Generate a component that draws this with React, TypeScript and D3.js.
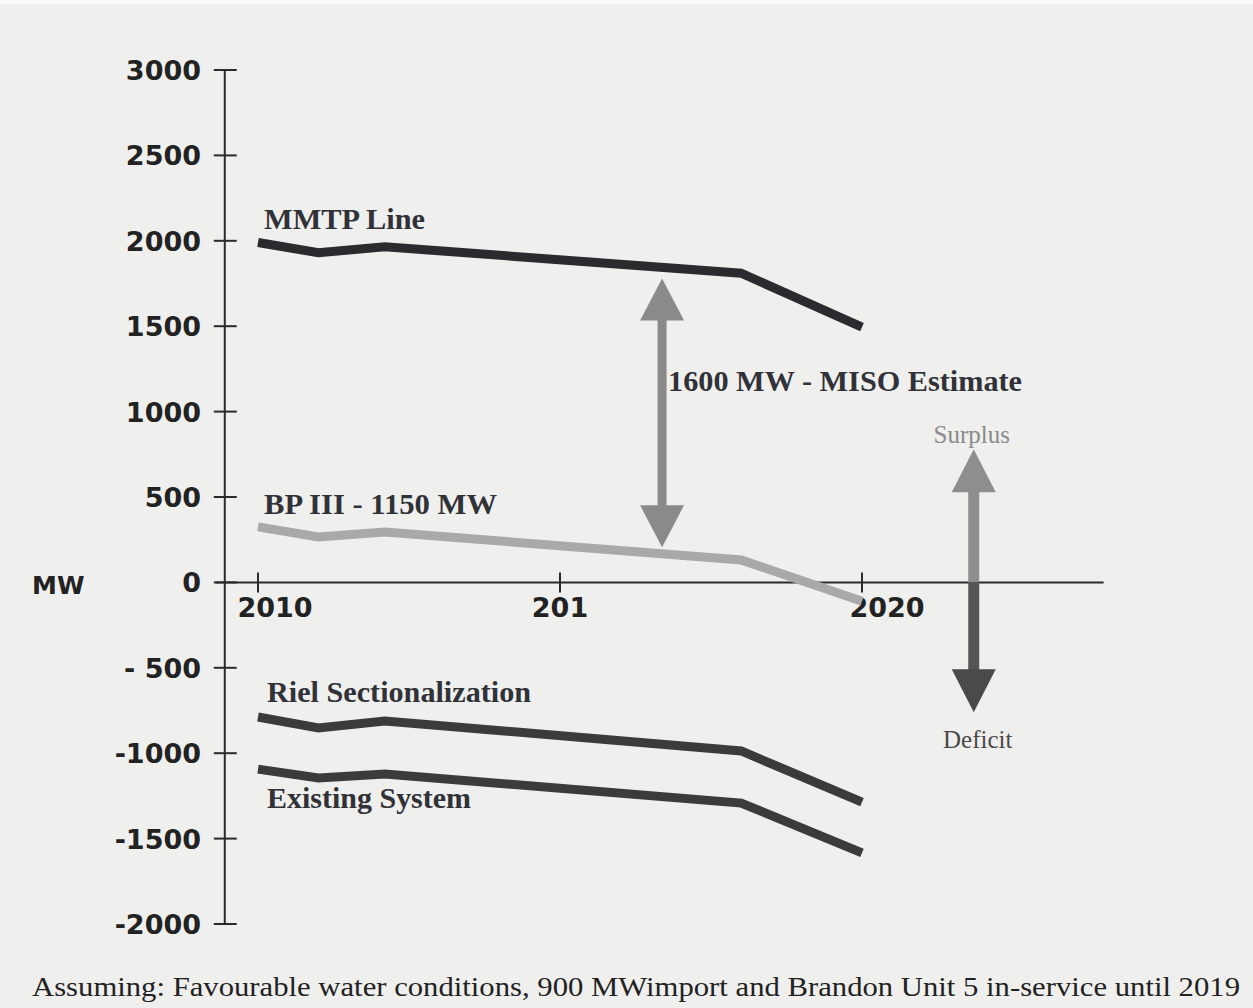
// MW surplus / deficit outlook, 2010–2020 — D3 scales, JSX drawing.
import * as d3 from "d3";

const WIDTH = 1253;
const HEIGHT = 1008;

const years = [2010, 2011, 2012.1, 2018, 2020];
const mmtpLine = [1990, 1930, 1965, 1810, 1495];
const bpIII = [325, 266, 295, 131, -110];
const rielSectionalization = [-788, -852, -811, -987, -1286];
const existingSystem = [-1093, -1145, -1122, -1292, -1584];

const yTicks = [3000, 2500, 2000, 1500, 1000, 500, 0, -500, -1000, -1500, -2000];
const yTickLabels = ["3000", "2500", "2000", "1500", "1000", "500", "0", "- 500", "-1000", "-1500", "-2000"];
const xTicks = [2010, 2015, 2020];
const xTickLabels = ["2010", "201", "2020"];

// range arrows: [year, from MW, to MW]
const misoArrow = [2016.69, 1780, 206];
const balanceArrow = [2021.85, 779, -760];

const FOOTNOTE =
  "Assuming: Favourable water conditions,  900 MWimport and Brandon Unit 5 in-service until 2019";

const x = d3.scaleLinear().domain([2010, 2020]).range([258, 862]);
const y = d3.scaleLinear().domain([-2000, 3000]).range([924, 70]);

const SERIF = "'Liberation Serif', 'Times New Roman', serif";
const SANS = "'DejaVu Sans', Arial, sans-serif";

const line = d3
  .line<number>()
  .x((_, i) => x(years[i]))
  .y((d) => y(d));

// triangular arrow head, dir = 1 points up (body below tip), -1 points down
function arrowHead(cx: number, tipY: number, dir: number, h = 43, hw = 22) {
  return `M${cx},${tipY} L${cx - hw},${tipY + dir * h} L${cx + hw},${tipY + dir * h} Z`;
}

export default function App() {
  const axisX = x(2009.45);
  const [mx, mTop, mBot] = misoArrow;
  const [bx, bTop, bBot] = balanceArrow;
  const mcx = x(mx);
  const bcx = x(bx);

  const series = [
    { values: bpIII, color: "#a9a9a9" },
    { values: mmtpLine, color: "#2b2a2e" },
    { values: rielSectionalization, color: "#3b3b3b" },
    { values: existingSystem, color: "#3b3b3b" },
  ];

  return (
    <svg
      width={WIDTH}
      height={HEIGHT}
      style={{ position: "absolute", left: 0, top: 0, display: "block", whiteSpace: "pre" }}
    >
      <rect width={WIDTH} height={HEIGHT} fill="#efefed" />
      <rect width={WIDTH} height={4} fill="#fafafa" />

      {/* axes */}
      <line x1={axisX} x2={axisX} y1={y(3000)} y2={y(-2000)} stroke="#2a2a2a" strokeWidth={2} />
      <line x1={x(2009.3)} x2={x(2024)} y1={y(0)} y2={y(0)} stroke="#2a2a2a" strokeWidth={2} />
      {yTicks.map((t, i) => (
        <g key={t}>
          <line x1={axisX - 11} x2={axisX + 12} y1={y(t)} y2={y(t)} stroke="#2a2a2a" strokeWidth={2} />
          <text
            x={201}
            y={y(t) + 10}
            textAnchor="end"
            fontFamily={SANS}
            fontWeight="bold"
            fontSize={27}
            fill="#222"
          >
            {yTickLabels[i]}
          </text>
        </g>
      ))}
      <text x={32} y={y(0) + 12} fontFamily={SANS} fontWeight="bold" fontSize={25} fill="#222">
        MW
      </text>
      {xTicks.map((t, i) => (
        <g key={t}>
          <line x1={x(t)} x2={x(t)} y1={y(0) - 10} y2={y(0) + 10} stroke="#2a2a2a" strokeWidth={2} />
          <text
            x={x(t) + [17, 0, 25][i]}
            y={y(0) + 35}
            textAnchor="middle"
            fontFamily={SANS}
            fontWeight="bold"
            fontSize={27}
            fill="#222"
          >
            {xTickLabels[i]}
          </text>
        </g>
      ))}

      {/* series */}
      {series.map((s, i) => (
        <path
          key={i}
          d={line(s.values) ?? ""}
          fill="none"
          stroke={s.color}
          strokeWidth={9}
          strokeLinejoin="miter"
        />
      ))}

      {/* MISO estimate arrow */}
      <g fill="#8a8a8a">
        <rect x={mcx - 4.5} y={y(mTop) + 40} width={9} height={y(mBot) - y(mTop) - 80} />
        <path d={arrowHead(mcx, y(mTop), 1, 42)} />
        <path d={arrowHead(mcx, y(mBot), -1, 42)} />
      </g>

      {/* surplus / deficit arrow */}
      <rect x={bcx - 5.5} y={y(bTop) + 40} width={11} height={y(0) - y(bTop) - 40} fill="#8e8e8e" />
      <path d={arrowHead(bcx, y(bTop), 1)} fill="#8e8e8e" />
      <rect x={bcx - 5.5} y={y(0)} width={11} height={y(bBot) - y(0) - 40} fill="#555" />
      <path d={arrowHead(bcx, y(bBot), -1)} fill="#4a4a4a" />

      {/* labels */}
      <g fontFamily={SERIF} fontWeight="bold" fontSize={29} fill="#303238">
        <text x={x(2010.1)} y={y(2000) - 12} textLength={161} lengthAdjust="spacingAndGlyphs">
          MMTP Line
        </text>
        <text x={x(2010.1)} y={y(500) + 17} textLength={233} lengthAdjust="spacingAndGlyphs">
          {"BP III -  1150 MW"}
        </text>
        <text x={mcx + 6} y={y(1100) - 4} textLength={354} lengthAdjust="spacingAndGlyphs">
          {"1600 MW - MISO  Estimate"}
        </text>
        <text x={x(2010.15)} y={y(-700)} textLength={264} lengthAdjust="spacingAndGlyphs">
          Riel Sectionalization
        </text>
        <text x={x(2010.15)} y={y(-1320)} textLength={204} lengthAdjust="spacingAndGlyphs">
          Existing System
        </text>
      </g>
      <text
        x={bcx - 2}
        y={y(bTop) - 6}
        textAnchor="middle"
        fontFamily={SERIF}
        fontSize={25}
        fill="#8a8a8a"
      >
        Surplus
      </text>
      <text x={bcx + 4} y={y(bBot) + 36} textAnchor="middle" fontFamily={SERIF} fontSize={25} fill="#4a4a4a">
        Deficit
      </text>

      <text
        x={32}
        y={996}
        fontFamily={SERIF}
        fontSize={28}
        fill="#222"
        textLength={1208}
        lengthAdjust="spacingAndGlyphs"
      >
        {FOOTNOTE}
      </text>
    </svg>
  );
}
